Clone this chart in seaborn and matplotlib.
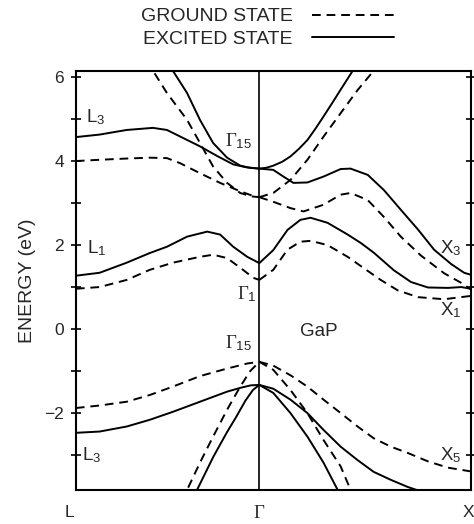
import numpy as np
import pandas as pd
import seaborn as sns
import matplotlib.pyplot as plt
from matplotlib.lines import Line2D
from matplotlib.transforms import ScaledTranslation

# k along L - Gamma - X  (L = -0.866, Gamma = 0, X = 1), energies in eV

# ---- conduction bands, excited state (solid)
k_c1 = [-0.866, -0.754, -0.626, -0.502, -0.436, -0.360, -0.280, -0.199, -0.123, -0.060, 0.0]
e_c1 = [4.57, 4.63, 4.74, 4.79, 4.74, 4.55, 4.35, 4.12, 3.92, 3.85, 3.82]
k_c2 = [-0.433, -0.408, -0.341, -0.280, -0.218, -0.152, -0.090, -0.045, 0.0]
e_c2 = [6.4, 6.15, 5.62, 4.98, 4.43, 4.08, 3.89, 3.84, 3.82]
k_c3 = [0.0, 0.033, 0.066, 0.107, 0.147, 0.187, 0.227, 0.265, 0.303, 0.344, 0.384, 0.441, 0.455]
e_c3 = [3.82, 3.84, 3.89, 3.98, 4.11, 4.29, 4.5, 4.77, 5.06, 5.38, 5.7, 6.15, 6.28]
k_c4 = [0.0, 0.066, 0.114, 0.161, 0.227, 0.303, 0.384, 0.431, 0.512, 0.588, 0.668, 0.749, 0.825, 0.905, 0.967, 1.0]
e_c4 = [3.82, 3.79, 3.63, 3.48, 3.49, 3.63, 3.81, 3.82, 3.67, 3.31, 2.84, 2.37, 1.89, 1.55, 1.34, 1.29]
k_c5 = [-0.866, -0.754, -0.626, -0.517, -0.436, -0.341, -0.246, -0.185, -0.123, -0.057, 0.0]
e_c5 = [1.27, 1.34, 1.58, 1.81, 1.96, 2.2, 2.32, 2.25, 1.96, 1.72, 1.57]
k_c6 = [0.0, 0.066, 0.133, 0.194, 0.242, 0.322, 0.417, 0.479, 0.540, 0.635, 0.716, 0.796, 0.891, 0.953, 1.0]
e_c6 = [1.57, 1.88, 2.36, 2.6, 2.65, 2.53, 2.25, 2.05, 1.82, 1.4, 1.12, 0.99, 0.98, 1.0, 0.96]

# ---- conduction bands, ground state (dashed)
k_d1 = [-0.866, -0.754, -0.626, -0.517, -0.436, -0.374, -0.280, -0.185, -0.090, -0.030, 0.0]
e_d1 = [4.0, 4.03, 4.06, 4.08, 4.07, 3.95, 3.71, 3.48, 3.28, 3.17, 3.14]
k_d2 = [-0.525, -0.502, -0.436, -0.341, -0.280, -0.218, -0.152, -0.090, -0.040, 0.0]
e_d2 = [6.4, 6.15, 5.62, 4.98, 4.43, 3.87, 3.48, 3.24, 3.16, 3.14]
k_d3 = [0.0, 0.066, 0.147, 0.227, 0.303, 0.384, 0.464, 0.540, 0.555]
e_d3 = [3.14, 3.24, 3.55, 4.03, 4.58, 5.14, 5.69, 6.15, 6.28]
k_d4 = [0.0, 0.066, 0.147, 0.209, 0.303, 0.384, 0.431, 0.512, 0.588, 0.668, 0.763, 0.872, 0.953, 1.0]
e_d4 = [3.14, 3.03, 2.88, 2.8, 2.96, 3.2, 3.24, 3.07, 2.67, 2.2, 1.75, 1.33, 1.1, 0.94]
k_d5 = [-0.866, -0.754, -0.626, -0.517, -0.408, -0.280, -0.218, -0.152, -0.090, -0.028, 0.0]
e_d5 = [0.96, 1.0, 1.17, 1.41, 1.58, 1.72, 1.77, 1.69, 1.46, 1.22, 1.17]
k_d6 = [0.0, 0.066, 0.133, 0.194, 0.242, 0.322, 0.417, 0.479, 0.573, 0.654, 0.749, 0.872, 1.0]
e_d6 = [1.17, 1.41, 1.89, 2.08, 2.1, 2.0, 1.72, 1.5, 1.17, 0.92, 0.76, 0.71, 0.79]

# ---- valence bands, ground state (dashed)
k_v1 = [-0.866, -0.754, -0.626, -0.517, -0.408, -0.280, -0.152, -0.057, 0.0]
e_v1 = [-1.88, -1.82, -1.73, -1.57, -1.37, -1.12, -0.94, -0.82, -0.78]
k_v3 = [-0.36, -0.341, -0.280, -0.218, -0.152, -0.090, -0.043, 0.0]
e_v3 = [-4.1, -3.83, -3.18, -2.56, -1.92, -1.37, -1.0, -0.78]
k_v5 = [0.0, 0.066, 0.147, 0.227, 0.303, 0.384, 0.464, 0.540, 0.621, 0.701, 0.796, 0.891, 1.0]
e_v5 = [-0.78, -0.87, -1.1, -1.37, -1.68, -2.0, -2.32, -2.6, -2.8, -2.95, -3.15, -3.3, -3.39]
k_v7 = [0.0, 0.066, 0.147, 0.227, 0.303, 0.384, 0.431, 0.45]
e_v7 = [-0.78, -0.97, -1.45, -2.0, -2.64, -3.27, -3.83, -4.1]

# ---- valence bands, excited state (solid)
k_v2 = [-0.866, -0.754, -0.626, -0.517, -0.408, -0.280, -0.152, -0.090, -0.040, 0.0]
e_v2 = [-2.47, -2.44, -2.32, -2.16, -1.97, -1.73, -1.49, -1.40, -1.34, -1.33]
k_v4 = [-0.31, -0.294, -0.218, -0.152, -0.110, -0.065, -0.030, 0.0]
e_v4 = [-4.1, -3.83, -3.05, -2.45, -2.1, -1.7, -1.45, -1.33]
k_v6 = [0.0, 0.066, 0.147, 0.227, 0.303, 0.384, 0.464, 0.540, 0.621, 0.701, 0.749, 0.80]
e_v6 = [-1.33, -1.42, -1.68, -2.0, -2.4, -2.8, -3.12, -3.4, -3.59, -3.76, -3.84, -3.92]
k_v8 = [0.0, 0.066, 0.147, 0.227, 0.303, 0.370, 0.39]
e_v8 = [-1.33, -1.52, -2.0, -2.56, -3.18, -3.83, -4.1]

curves = [
    ('c1', k_c1, e_c1, 'excited'), ('c2', k_c2, e_c2, 'excited'),
    ('c3', k_c3, e_c3, 'excited'), ('c4', k_c4, e_c4, 'excited'),
    ('c5', k_c5, e_c5, 'excited'), ('c6', k_c6, e_c6, 'excited'),
    ('d1', k_d1, e_d1, 'ground'), ('d2', k_d2, e_d2, 'ground'),
    ('d3', k_d3, e_d3, 'ground'), ('d4', k_d4, e_d4, 'ground'),
    ('d5', k_d5, e_d5, 'ground'), ('d6', k_d6, e_d6, 'ground'),
    ('v1', k_v1, e_v1, 'ground'), ('v3', k_v3, e_v3, 'ground'),
    ('v5', k_v5, e_v5, 'ground'), ('v7', k_v7, e_v7, 'ground'),
    ('v2', k_v2, e_v2, 'excited'), ('v4', k_v4, e_v4, 'excited'),
    ('v6', k_v6, e_v6, 'excited'), ('v8', k_v8, e_v8, 'excited'),
]
df = pd.concat([pd.DataFrame({'k': k, 'E': e, 'band': name, 'state': st})
                for name, k, e, st in curves], ignore_index=True)

y_ticks = list(range(-3, 7))
y_labels = ['', '\u22122', '', '0', '', '2', '', '4', '', '6']

sns.set_theme(style='white')
plt.rcParams['font.family'] = ['Liberation Sans', 'DejaVu Sans']
plt.rcParams['mathtext.fontset'] = 'custom'
plt.rcParams['mathtext.rm'] = 'Liberation Serif'
plt.rcParams['mathtext.it'] = 'Liberation Serif:italic'
plt.rcParams['mathtext.sf'] = 'Liberation Sans'

fig = plt.figure(figsize=(4.74, 5.24), dpi=100)
ax = fig.add_axes([0.160, 0.065, 0.834, 0.80])

dash = (4.5, 3)
sns.lineplot(data=df, x='k', y='E', units='band', estimator=None, sort=False,
             style='state', dashes={'excited': '', 'ground': dash},
             color='black', lw=1.4, legend=False, ax=ax)

ax.axvline(0, color='black', lw=1.2)
ax.set_xlim(-0.866, 1.0)
ax.set_ylim(-3.83, 6.15)
for s in ax.spines.values():
    s.set_color('black')
    s.set_linewidth(1.5)

ax.set_xticks([-0.866, 0, 1.0], ['L', r'$\Gamma$', 'X'])
ax.set_yticks(y_ticks, y_labels)
ax.tick_params(axis='x', length=0, pad=11, labelsize=12.5)
ax.tick_params(axis='y', left=True, right=True, direction='inout', length=7,
               width=1.2, color='black', labelsize=12.5, pad=5)
lab_L, lab_G, lab_X = ax.get_xticklabels()
lab_L.set_transform(lab_L.get_transform() + ScaledTranslation(-0.06, 0, fig.dpi_scale_trans))
lab_X.set_transform(lab_X.get_transform() + ScaledTranslation(-0.03, 0, fig.dpi_scale_trans))
lab_G.set_fontsize(13.5)
ax.set_xlabel('')
ax.set_ylabel('ENERGY (eV)', fontsize=14, labelpad=6)

fs = 13.5
ax.text(-0.818, 5.05, r'$\mathsf{L}_{\mathsf{3}}$', fontsize=fs, va='center')
ax.text(-0.812, 1.92, r'$\mathsf{L}_{\mathsf{1}}$', fontsize=fs, va='center')
ax.text(-0.839, -2.99, r'$\mathsf{L}_{\mathsf{3}}$', fontsize=fs, va='center')
ax.text(-0.160, 4.47, r'$\Gamma_{\mathsf{15}}$', fontsize=fs, va='center')
ax.text(-0.105, 0.84, r'$\Gamma_{\mathsf{1}}$', fontsize=fs, va='center')
ax.text(-0.160, -0.33, r'$\Gamma_{\mathsf{15}}$', fontsize=fs, va='center')
ax.text(0.28, -0.05, 'GaP', fontsize=fs, va='center', ha='center')
ax.text(0.855, 1.93, r'$\mathsf{X}_{\mathsf{3}}$', fontsize=fs, va='center')
ax.text(0.855, 0.44, r'$\mathsf{X}_{\mathsf{1}}$', fontsize=fs, va='center')
ax.text(0.855, -2.99, r'$\mathsf{X}_{\mathsf{5}}$', fontsize=fs, va='center')

handles = [Line2D([], [], color='black', lw=1.4, ls=(0, dash)),
           Line2D([], [], color='black', lw=1.4)]
fig.legend(handles, ['GROUND STATE', 'EXCITED STATE'], markerfirst=False,
           frameon=False, loc='center', bbox_to_anchor=(0.564, 0.947),
           fontsize=14, handlelength=4.2, handletextpad=1.0, labelspacing=0.25)

fig.savefig('out.png', dpi=100)
